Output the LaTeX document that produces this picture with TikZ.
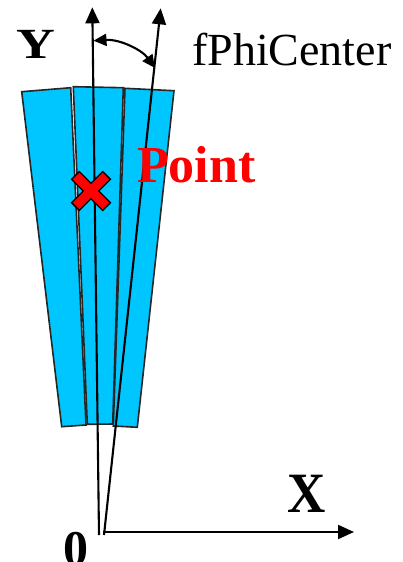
\documentclass[tikz,border=0pt]{standalone}
\usepackage{fontspec}
\setmainfont{Liberation Serif}
\usetikzlibrary{arrows.meta}
\definecolor{panelblue}{RGB}{0,198,255}
\begin{document}
\begin{tikzpicture}[x=1pt,y=-1pt,
  panel/.style={fill=panelblue,draw=black!85,line width=1.6pt,line join=miter},
  axisline/.style={line width=2.1pt,-{Triangle[length=16pt,width=14pt]}},
  anglearc/.style={line width=2.1pt,{Triangle[length=13pt,width=12pt]}-{Triangle[length=13pt,width=12pt]}},
  lbl/.style={inner sep=0pt,anchor=base west}]
\useasboundingbox (0,0) rectangle (403,562);
% panels
\draw[panel] (21.7,91.7) -- (70.7,87.7) -- (86,425) -- (61.7,426.7) -- cycle;
\draw[panel] (73.3,86.7) -- (123.3,87.7) -- (112.7,424) -- (87.3,424.3) -- cycle;
\draw[panel] (125,88.3) -- (174,90.7) -- (137.3,427.3) -- (113.3,426) -- cycle;
% coordinates
\coordinate (o1) at (99,535);
\coordinate (o2) at (104,535);
\coordinate (ox) at (103,532);
\coordinate (ytip) at (92.3,7.3);
\coordinate (ctip) at (160.7,8.3);
\coordinate (xtip) at (354,532);
\coordinate (a1) at (93.5,40.7);
\coordinate (a2) at (155,68);
% axes
\draw[axisline] (o1) -- (ytip);
\draw[axisline] (o2) -- (ctip);
\draw[axisline] (ox) -- (xtip);
% angle arc
\draw[anglearc] (a2) .. controls (142,50) and (120,39) .. (a1);
% cross marker
\node[inner sep=0pt] (pt) at (91,191) {};
\begin{scope}[shift={(91,191)},rotate=45]
\draw[fill=red,draw=black,line width=1.3pt,line join=miter]
  (5.5,5.5) -- (22,5.5) -- (22,-5.5) -- (5.5,-5.5) -- (5.5,-22) -- (-5.5,-22)
  -- (-5.5,-5.5) -- (-22,-5.5) -- (-22,5.5) -- (-5.5,5.5) -- (-5.5,22) -- (5.5,22) -- cycle;
\end{scope}
% labels
\node[lbl] (ylab) at (16,58) {\fontsize{43}{43}\selectfont\bfseries\scalebox{1.25}[1]{Y}};
\node[lbl] (phi) at (192,65) {\fontsize{46}{46}\selectfont fPhiCenter};
\node[lbl,text=red] (plab) at (137,182) {\fontsize{52}{52}\selectfont\bfseries Point};
\node[lbl] (xlab) at (287,512) {\fontsize{57}{57}\selectfont\bfseries\scalebox{0.93}[1]{X}};
\node[lbl] (zlab) at (63,565) {\fontsize{50}{50}\selectfont\bfseries 0};
\end{tikzpicture}
\end{document}
